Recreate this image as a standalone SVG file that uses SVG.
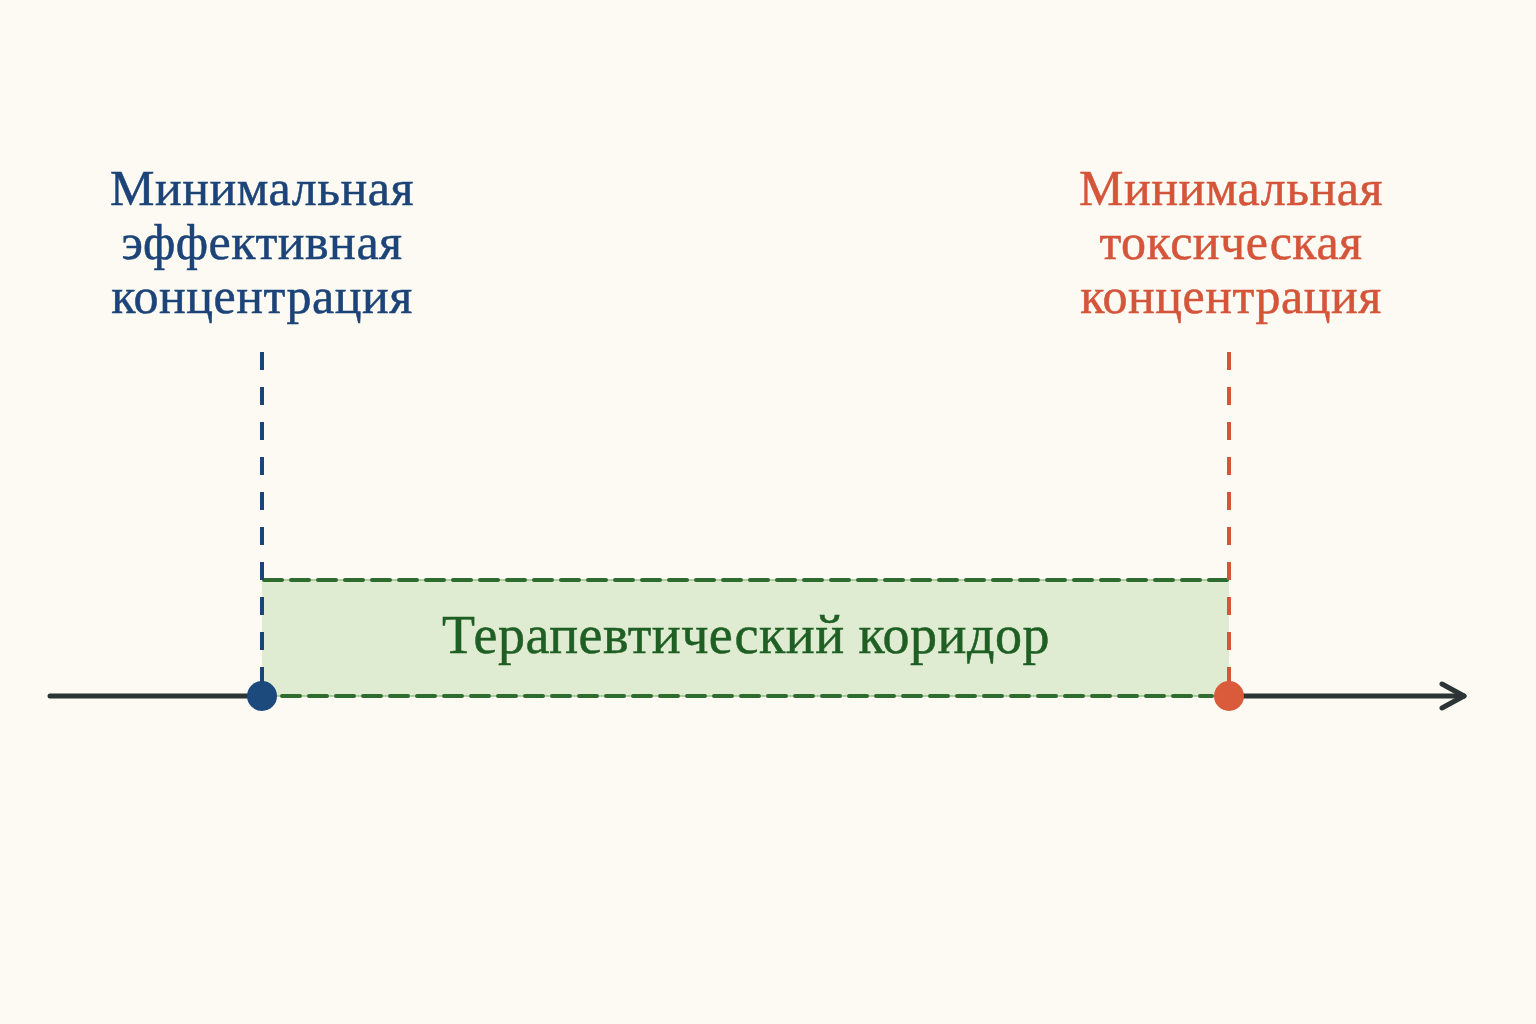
<svg xmlns="http://www.w3.org/2000/svg" width="1536" height="1024" viewBox="0 0 1536 1024">
<style>
.lbl{font-family:"Liberation Serif","Times New Roman",serif;font-size:50px;text-anchor:middle;stroke-width:0.5;letter-spacing:0.5px}
.blue{fill:#1c4478;stroke:#1c4478}
.red{fill:#d4553a;stroke:#d4553a}
.green{fill:#1f5f24;stroke:#1f5f24;font-size:54px}
.vdash{stroke-width:4;stroke-dasharray:18 17;fill:none}
</style>
<defs>
<marker id="arrow" viewBox="0 0 30 30" refX="26" refY="15" markerWidth="30" markerHeight="30" markerUnits="userSpaceOnUse" orient="auto">
<path d="M4,3 L26,15 L4,27" fill="none" stroke="#2b3535" stroke-width="5" stroke-linecap="round" stroke-linejoin="round"/>
</marker>
</defs>
<rect x="0" y="0" width="1536" height="1024" fill="#fdfaf3"/>
<g id="corridor">
<rect x="262" y="580" width="967" height="116" fill="#dfecd2"/>
<line x1="262" y1="580" x2="1229" y2="580" stroke="#9cc08f" stroke-width="1.5"/>
<line x1="262" y1="696" x2="1229" y2="696" stroke="#9cc08f" stroke-width="1.5"/>
<line x1="264" y1="580" x2="1229" y2="580" stroke="#2e6b2e" stroke-width="4" stroke-dasharray="18 9" stroke-linecap="round"/>
<line x1="282" y1="696" x2="1212" y2="696" stroke="#2e6b2e" stroke-width="4" stroke-dasharray="18 9" stroke-linecap="round"/>
<text class="lbl green" x="746" y="653">Терапевтический коридор</text>
</g>
<g id="connectors">
<line x1="50" y1="696" x2="262" y2="696" stroke="#2b3535" stroke-width="5" stroke-linecap="round"/>
<line x1="1229" y1="696" x2="1464" y2="696" stroke="#2b3535" stroke-width="5" stroke-linecap="round" marker-end="url(#arrow)"/>
<line class="vdash" x1="262" y1="352" x2="262" y2="682" stroke="#1c4478"/>
<line class="vdash" x1="1229" y1="352" x2="1229" y2="682" stroke="#d4553a"/>
</g>
<g id="min-effective">
<circle cx="262" cy="696" r="15" fill="#1c4a7c"/>
<text class="lbl blue" x="262" y="205">Минимальная</text>
<text class="lbl blue" x="262" y="259">эффективная</text>
<text class="lbl blue" x="262" y="313">концентрация</text>
</g>
<g id="min-toxic">
<circle cx="1229" cy="696" r="15" fill="#d95b3c"/>
<text class="lbl red" x="1231" y="205">Минимальная</text>
<text class="lbl red" x="1231" y="259">токсическая</text>
<text class="lbl red" x="1231" y="313">концентрация</text>
</g>
</svg>
